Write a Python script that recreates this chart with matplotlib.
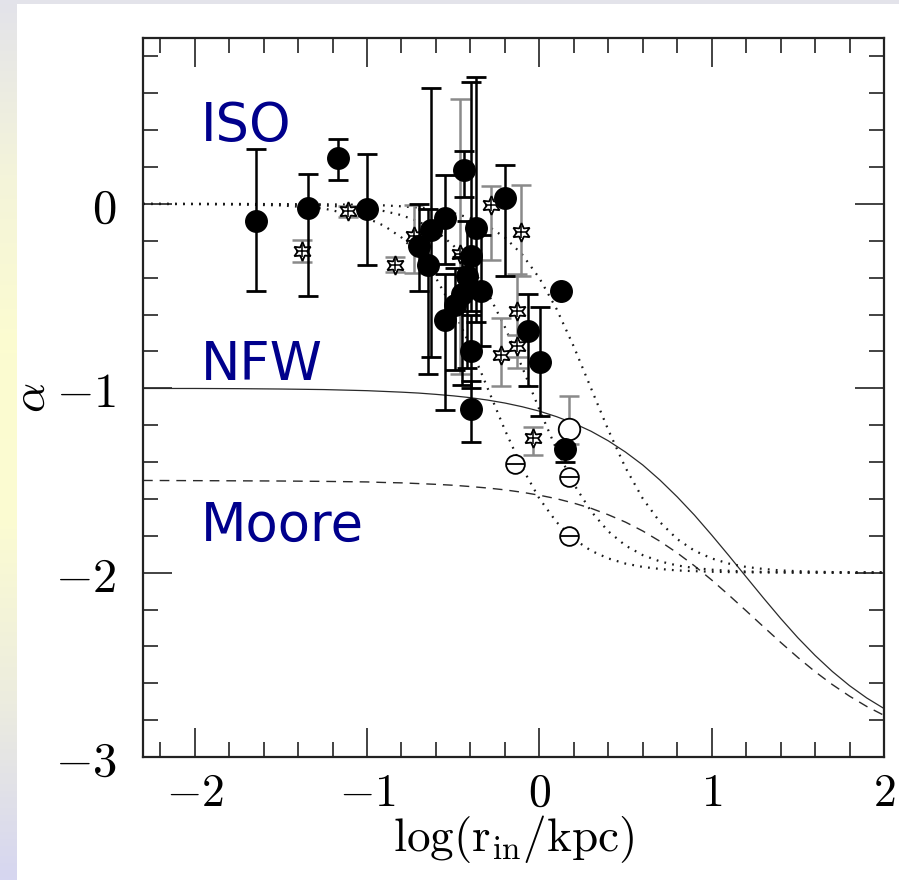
import matplotlib
matplotlib.use('Agg')
import matplotlib.pyplot as plt
import numpy as np
from matplotlib.ticker import MultipleLocator, FixedLocator
from matplotlib.colors import LinearSegmentedColormap
from matplotlib.patches import Rectangle

plt.rcParams['mathtext.fontset'] = 'cm'

# model slope curves, sampled in log(r/kpc)
curve_x = [-2.3, -2.0, -1.75, -1.5, -1.25, -1.0, -0.9, -0.8, -0.7, -0.6, -0.5, -0.4,
           -0.3, -0.2, -0.1, 0.0, 0.1, 0.2, 0.3, 0.4, 0.5, 0.6, 0.7, 0.8, 0.9, 1.0,
           1.1, 1.2, 1.3, 1.4, 1.5, 1.6, 1.7, 1.8, 1.9, 2.0]
nfw = [-1.001, -1.001, -1.002, -1.004, -1.007, -1.013, -1.017, -1.021, -1.026, -1.033,
       -1.041, -1.051, -1.064, -1.080, -1.100, -1.124, -1.154, -1.190, -1.233, -1.285,
       -1.346, -1.416, -1.498, -1.589, -1.688, -1.796, -1.908, -2.023, -2.137, -2.248,
       -2.353, -2.449, -2.536, -2.613, -2.680, -2.737]
moore = [-1.500, -1.501, -1.502, -1.503, -1.505, -1.508, -1.511, -1.513, -1.517, -1.521,
         -1.526, -1.533, -1.541, -1.551, -1.564, -1.580, -1.599, -1.623, -1.651, -1.686,
         -1.726, -1.774, -1.830, -1.893, -1.963, -2.040, -2.122, -2.207, -2.293, -2.378,
         -2.460, -2.537, -2.607, -2.670, -2.726, -2.774]
iso_small = [0.0, -0.001, -0.003, -0.008, -0.025, -0.077, -0.119, -0.182, -0.274, -0.402,
             -0.570, -0.774, -1.000, -1.226, -1.431, -1.598, -1.726, -1.818, -1.881, -1.923,
             -1.951, -1.969, -1.980, -1.988, -1.992, -1.995, -1.997, -1.998, -1.999, -1.999,
             -2.0, -2.0, -2.0, -2.0, -2.0, -2.0]
iso_mid = [0.0, 0.0, -0.001, -0.003, -0.008, -0.025, -0.039, -0.061, -0.096, -0.147,
           -0.224, -0.333, -0.481, -0.668, -0.885, -1.115, -1.332, -1.520, -1.667, -1.776,
           -1.853, -1.905, -1.939, -1.961, -1.975, -1.984, -1.990, -1.994, -1.996, -1.998,
           -1.999, -1.999, -2.0, -2.0, -2.0, -2.0]
iso_big = [0.0, 0.0, 0.0, -0.001, -0.002, -0.005, -0.008, -0.013, -0.020, -0.031,
           -0.049, -0.077, -0.119, -0.182, -0.274, -0.402, -0.570, -0.774, -1.000, -1.226,
           -1.431, -1.598, -1.726, -1.818, -1.881, -1.923, -1.951, -1.969, -1.980, -1.988,
           -1.992, -1.995, -1.997, -1.998, -1.999, -1.999]

# filled circles with black error bars
fc_x = [-1.645, -1.34, -1.17, -1.00, -0.70, -0.645, -0.63, -0.547, -0.547, -0.49,
        -0.45, -0.436, -0.42, -0.395, -0.395, -0.395, -0.365, -0.337, -0.20, -0.064,
        0.005, 0.15]
fc_y = [-0.09, -0.02, 0.25, -0.03, -0.23, -0.33, -0.14, -0.075, -0.63, -0.55,
        -0.49, 0.185, -0.39, -0.28, -0.80, -1.11, -0.13, -0.47, 0.03, -0.69,
        -0.86, -1.33]
fc_lo = [0.38, 0.48, 0.12, 0.30, 0.24, 0.59, 0.69, 0.25, 0.49, 0.35,
         0.49, 0.15, 0.50, 0.30, 0.20, 0.18, 0.51, 0.30, 0.42, 0.30,
         0.29, 0.07]
fc_hi = [0.39, 0.18, 0.10, 0.30, 0.23, 0.30, 0.77, 0.23, 0.25, 0.20,
         0.20, 0.10, 0.30, 0.94, 0.20, 0.15, 0.82, 0.30, 0.18, 0.20,
         0.30, 0.03]
# filled circle without error bar
fn_x = [0.128]
fn_y = [-0.47]

# stars with grey error bars
st_x = [-1.38, -1.11, -0.84, -0.73, -0.46, -0.28, -0.105, -0.13, -0.13, -0.22, -0.035]
st_y = [-0.255, -0.04, -0.33, -0.175, -0.27, -0.005, -0.15, -0.58, -0.77, -0.82, -1.27]
st_lo = [0.06, 0.03, 0.04, 0.20, 0.65, 0.30, 0.24, 0.31, 0.06, 0.17, 0.09]
st_hi = [0.06, 0.03, 0.04, 0.17, 0.84, 0.10, 0.25, 0.20, 0.06, 0.20, 0.06]

# open circle
oc_x = [0.17]
oc_y = [-1.22]
oc_lo = [0.08]
oc_hi = [0.18]

# small barred circles
bc_x = [-0.14, 0.17, 0.17]
bc_y = [-1.41, -1.48, -1.80]

xticks = [-2, -1, 0, 1, 2]
xtick_labels = [r'$-2$', r'$-1$', r'$0$', r'$1$', r'$2$']
yticks = [-3, -2, -1, 0]
ytick_labels = [r'$-3$', r'$-2$', r'$-1$', r'$0$']

fig = plt.figure(figsize=(8.99, 8.80), dpi=100)
fig.patch.set_facecolor('white')

# slide backdrop: thin top band and a graded strip on the left
fig.add_artist(Rectangle((0, 1 - 4 / 880), 1, 4 / 880, transform=fig.transFigure,
                         facecolor='#e3e3ea', edgecolor='none'))
strip = fig.add_axes([0, 0, 17 / 899, 1])
cmap = LinearSegmentedColormap.from_list('strip', ['#e3e3ea', '#f4f4da', '#fcfcd0',
                                                   '#fbfbd2', '#ececdf', '#d6d6f0'])
strip.imshow(np.linspace(0, 1, 256).reshape(-1, 1), aspect='auto', cmap=cmap)
strip.axis('off')

ax = fig.add_axes([143 / 899, 123 / 880, 741 / 899, 719 / 880])

ax.plot(curve_x, nfw, '-', color='#2a2a2a', lw=0.9)
ax.plot(curve_x, moore, color='#2a2a2a', lw=1.0, dashes=(7, 5))
for c in (iso_small, iso_mid, iso_big):
    ax.plot(curve_x, c, color='#1a1a1a', lw=1.6, linestyle=(0, (0.8, 2.8)))

ax.errorbar(st_x, st_y, yerr=[st_lo, st_hi], fmt='none', ecolor='#8a8a8a',
            elinewidth=1.8, capsize=7.5, capthick=1.8, zorder=3)
ax.plot(st_x, st_y, linestyle='none', marker=(6, 1, 0), ms=13.5, mfc='white',
        mec='black', mew=1.3, zorder=4)
ax.plot(st_x, st_y, linestyle='none', marker='+', ms=8, mec='black', mew=1.1, zorder=4)

ax.errorbar(oc_x, oc_y, yerr=[oc_lo, oc_hi], fmt='none', ecolor='#8a8a8a',
            elinewidth=1.8, capsize=7.5, capthick=1.8, zorder=3)
ax.plot(oc_x, oc_y, linestyle='none', marker='o', ms=15.5, mfc='white', mec='black',
        mew=1.3, zorder=4)

ax.errorbar(fc_x, fc_y, yerr=[fc_lo, fc_hi], fmt='none', ecolor='black',
            elinewidth=1.8, capsize=7.5, capthick=2.0, zorder=5)
ax.plot(fc_x, fc_y, linestyle='none', marker='o', ms=15.5, color='black', zorder=6)
ax.plot(fn_x, fn_y, linestyle='none', marker='o', ms=15.5, color='black', zorder=6)

ax.plot(bc_x, bc_y, linestyle='none', marker='o', ms=13.5, mfc='white', mec='black',
        mew=1.3, zorder=4)
ax.plot(bc_x, bc_y, linestyle='none', marker='_', ms=13.5, mec='black', mew=1.3, zorder=4)

ax.set_xlim(-2.3, 2.0)
ax.set_ylim(-3.0, 0.9)
ax.xaxis.set_major_locator(FixedLocator(xticks))
ax.yaxis.set_major_locator(FixedLocator(yticks))
ax.xaxis.set_minor_locator(MultipleLocator(0.2))
ax.yaxis.set_minor_locator(MultipleLocator(0.2))
ax.set_xticklabels(xtick_labels)
ax.set_yticklabels(ytick_labels)
ax.tick_params(which='both', direction='in', top=True, right=True, colors='#222222',
               labelcolor='black')
ax.tick_params(axis='x', which='major', length=21, width=1.2, pad=10, labelsize=33)
ax.tick_params(axis='y', which='major', length=21, width=1.2, pad=19, labelsize=35)
ax.tick_params(which='minor', length=11, width=1.2)
for s in ax.spines.values():
    s.set_linewidth(1.6)
    s.set_color('#222222')

ax.set_xlabel(r'$\mathrm{log(r_{in}/kpc)}$', fontsize=34, labelpad=-2)
ax.set_ylabel(r'$\alpha$', fontsize=34, labelpad=0)

for name, yv in (('ISO', 0.424), ('NFW', -0.875), ('Moore', -1.745)):
    ax.text(-1.965, yv, name, color='#00008c', fontsize=38, ha='left', va='center',
            family='DejaVu Sans')

fig.savefig('out.png', dpi=100)
